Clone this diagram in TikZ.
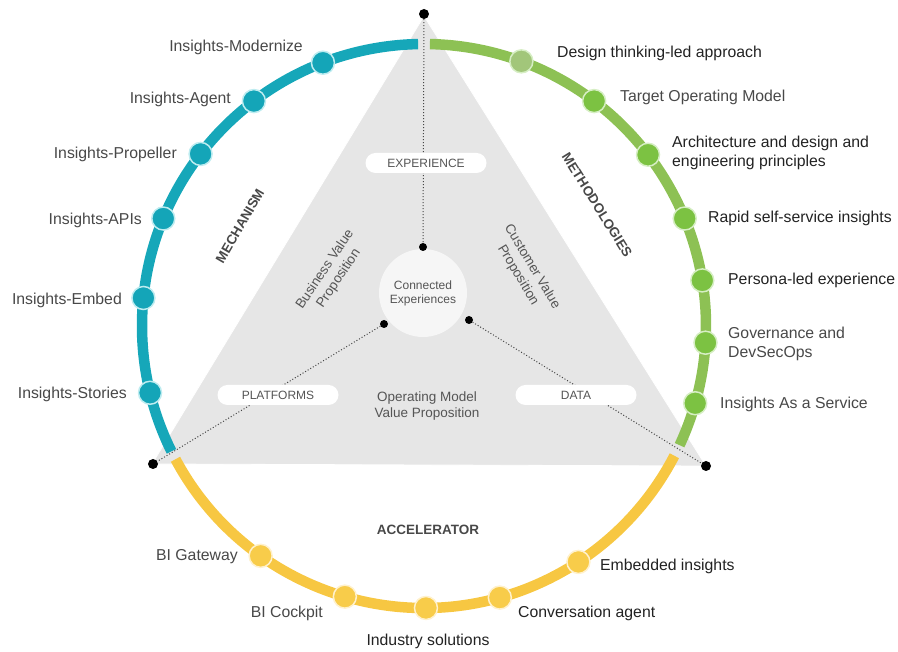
\documentclass[tikz,border=0pt]{standalone}
\usepackage{fontspec}
\setmainfont{Liberation Sans}
\pgfdeclarelayer{bg}
\pgfdeclarelayer{lines}
\pgfsetlayers{bg,lines,main}
\definecolor{tealring}{RGB}{22,167,185}
\definecolor{tealdot}{RGB}{20,165,184}
\definecolor{tealedge}{RGB}{190,236,240}
\definecolor{greenring}{RGB}{141,193,84}
\definecolor{greendot}{RGB}{124,194,66}
\definecolor{greenfade}{RGB}{162,198,122}
\definecolor{greenedge}{RGB}{214,238,196}
\definecolor{yellowring}{RGB}{247,199,66}
\definecolor{yellowdot}{RGB}{248,204,74}
\definecolor{yellowedge}{RGB}{255,241,205}
\definecolor{trifill}{RGB}{230,230,230}
\definecolor{hubfill}{RGB}{246,246,246}
\definecolor{lbldark}{RGB}{34,34,34}
\definecolor{lblgray}{RGB}{72,72,72}
\definecolor{innergray}{RGB}{85,85,85}
\definecolor{dotlinec}{RGB}{70,70,70}
\begin{document}
\begin{tikzpicture}[x=1pt,y=1pt,
  ring/.style={line width=10.5pt},
  rdot/.style={circle, minimum size=23pt, inner sep=0pt, line width=1.5pt},
  tdot/.style={rdot, fill=tealdot, draw=tealedge},
  gdot/.style={rdot, fill=greendot, draw=greenedge},
  gfdot/.style={rdot, fill=greenfade, draw=greenedge},
  ydot/.style={rdot, fill=yellowdot, draw=yellowedge},
  cdot/.style={circle, fill=black, minimum size=10pt, inner sep=0pt},
  sdot/.style={circle, fill=black, minimum size=8pt, inner sep=0pt},
  dotline/.style={dotted, line width=1pt, draw=dotlinec},
  lbl/.style={font=\fontsize{15.8}{19}\selectfont, inner sep=0pt, align=left},
  dk/.style={lbl, text=lbldark},
  gy/.style={lbl, text=lblgray},
  sect/.style={font=\fontsize{13.5}{16}\selectfont\bfseries, text=lblgray, inner sep=0pt},
  vprop/.style={font=\fontsize{13.5}{16.5}\selectfont, text=innergray, align=center, inner sep=0pt},
  tagbox/.style={draw=none, fill=white, rounded corners=10pt, minimum width=121pt, minimum height=20pt, inner sep=0pt, font=\fontsize{12}{14}\selectfont, text=innergray}
]
\useasboundingbox (0,0) rectangle (898,652);
\coordinate (C) at (424,326);

% corner dots and hub
\node[cdot] (ctop) at (424,638) {};
\node[cdot] (cbl) at (153,188) {};
\node[cdot] (cbr) at (706,186) {};
\node[circle, fill=hubfill, minimum size=88pt, inner sep=0pt, align=center,
      font=\fontsize{12}{14}\selectfont, text=innergray] (hub) at (423,359) {Connected\\Experiences};
\node[sdot] (dt) at (423,405) {};
\node[sdot] (dl) at (384,328) {};
\node[sdot] (dr) at (469,332) {};

\begin{pgfonlayer}{bg}
  \fill[trifill] (424,636) -- (152,188) -- (706,186) -- cycle;
  \draw[white, line width=0.8pt] (424,636) -- (152,188) -- (706,186) -- cycle;
\end{pgfonlayer}
\begin{pgfonlayer}{lines}
  \draw[dotline] (ctop) -- (dt);
  \draw[dotline] (dl) -- (cbl);
  \draw[dotline] (dr) -- (cbr);
\end{pgfonlayer}

% tag boxes
\node[tagbox] (exp) at (426,489) {EXPERIENCE};
\node[tagbox] (plat) at (278,257) {PLATFORMS};
\node[tagbox] (data) at (576,257) {DATA};

% inner value propositions
\node[vprop, rotate=56] (bvp) at (332,378) {Business Value\\Proposition};
\node[vprop, rotate=-59] (cvp) at (525,381) {Customer Value\\Proposition};
\node[vprop] (ovp) at (427,246) {Operating Model\\Value Proposition};

% section titles
\node[sect, rotate=60] (mech) at (240,426) {MECHANISM};
\node[sect, rotate=-58] (meth) at (597,447) {METHODOLOGIES};
\node[sect] (acc) at (428,122) {ACCELERATOR};

% ring arcs
\draw[ring, tealring] ([shift={(91.2:282)}]C) arc[start angle=91.2, end angle=206.4, radius=282];
\draw[ring, yellowring] ([shift={(208.2:282)}]C) arc[start angle=208.2, end angle=332.6, radius=282];
\draw[ring, greenring] ([shift={(-25:282)}]C) arc[start angle=-25, end angle=88.8, radius=282];

% teal dots
\node[tdot] (t1) at ([shift={(111.0:282)}]C) {};
\node[tdot] (t2) at ([shift={(127.1:282)}]C) {};
\node[tdot] (t3) at ([shift={(142.4:282)}]C) {};
\node[tdot] (t4) at ([shift={(157.6:282)}]C) {};
\node[tdot] (t5) at ([shift={(174.3:282)}]C) {};
\node[tdot] (t6) at ([shift={(193.7:282)}]C) {};
% green dots
\node[gfdot] (g1) at ([shift={(69.8:282)}]C) {};
\node[gdot] (g2) at ([shift={(52.9:282)}]C) {};
\node[gdot] (g3) at ([shift={(37.4:282)}]C) {};
\node[gdot] (g4) at ([shift={(22.4:282)}]C) {};
\node[gdot] (g5) at ([shift={(9.3:282)}]C) {};
\node[gdot] (g6) at ([shift={(-3.4:282)}]C) {};
\node[gdot] (g7) at ([shift={(-15.9:282)}]C) {};
% yellow dots
\node[ydot] (y1) at ([shift={(234.6:282)}]C) {};
\node[ydot] (y2) at ([shift={(253.7:282)}]C) {};
\node[ydot] (y3) at ([shift={(270.4:282)}]C) {};
\node[ydot] (y4) at ([shift={(285.6:282)}]C) {};
\node[ydot] (y5) at ([shift={(303.2:282)}]C) {};

% labels left
\node[gy, anchor=east] (lt1) at (303,605) {Insights-Modernize};
\node[gy, anchor=east] (lt2) at (231,553) {Insights-Agent};
\node[gy, anchor=east] (lt3) at (177,498) {Insights-Propeller};
\node[gy, anchor=east] (lt4) at (142,432) {Insights-APIs};
\node[gy, anchor=east] (lt5) at (122,352) {Insights-Embed};
\node[gy, anchor=east] (lt6) at (127,258) {Insights-Stories};
% labels right
\node[dk, anchor=west] (lg1) at (557,599) {Design thinking-led approach};
\node[gy, anchor=west] (lg2) at (620,555) {Target Operating Model};
\node[dk, anchor=west] (lg3) at (672,499) {Architecture and design and\\engineering principles};
\node[dk, anchor=west] (lg4) at (708,434) {Rapid self-service insights};
\node[dk, anchor=west] (lg5) at (728,372) {Persona-led experience};
\node[gy, anchor=west] (lg6) at (728,308) {Governance and\\DevSecOps};
\node[gy, anchor=west] (lg7) at (720,248) {Insights As a Service};
% labels bottom
\node[gy, anchor=east] (ly1) at (238,95) {BI Gateway};
\node[gy, anchor=east] (ly2) at (323,39) {BI Cockpit};
\node[dk] (ly3) at (428,11) {Industry solutions};
\node[dk, anchor=west] (ly4) at (518,39) {Conversation agent};
\node[dk, anchor=west] (ly5) at (600,86) {Embedded insights};
\end{tikzpicture}
\end{document}
